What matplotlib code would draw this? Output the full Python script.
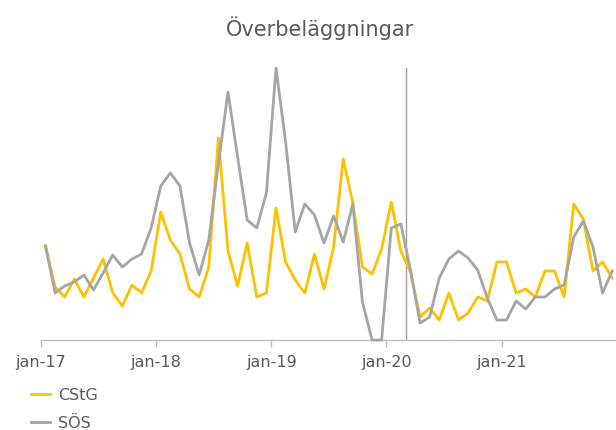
import matplotlib
matplotlib.use("Agg")
import matplotlib.pyplot as plt
import numpy as np

months = list(range(60))  # jan-17 .. dec-21, monthly
tick_labels = ["jan-17", "jan-18", "jan-19", "jan-20", "jan-21"]
cstg = [94, 53, 43, 61, 43, 62, 81, 47, 34, 55, 47, 69,
        128, 100, 86, 51, 43, 73, 202, 89, 54, 97, 43, 47,
        132, 78, 60, 47, 86, 51, 93, 181, 137, 73, 66, 91,
        138, 89, 68, 23, 32, 20, 47, 20, 27, 43, 39, 78,
        78, 47, 51, 43, 69, 69, 43, 136, 121, 69, 78, 62]
sos = [94, 47, 54, 58, 65, 50, 67, 85, 73, 81, 86, 112,
       154, 167, 154, 97, 65, 100, 176, 248, 183, 120, 112, 147,
       272, 198, 108, 136, 125, 97, 124, 98, 136, 38, 0, 0,
       112, 116, 70, 17, 23, 62, 81, 89, 82, 70, 42, 20,
       20, 39, 31, 43, 43, 51, 55, 103, 119, 93, 47, 69]
marker_month = 38  # mar-20

x = np.array(months) + 0.5

fig = plt.figure(figsize=(6.16, 4.30), dpi=100)
ax = fig.add_axes([40.7/616, 90/430, 1 - 40.7/616, 272/430])

ax.plot(x, cstg, color="#FFC000", lw=2.0, label="CStG", clip_on=False, zorder=3)
ax.plot(x, sos, color="#A5A5A5", lw=2.0, label="SÖS", clip_on=False, zorder=3)
ax.axvline(marker_month, color="#A0A0A0", lw=1.0, zorder=2)

ax.set_xlim(0, 59.9)
ax.set_ylim(0, 272)
ax.set_xticks([0, 12, 24, 36, 48])
ax.set_xticklabels(tick_labels)
ax.set_yticks([])
for s in ["top", "right", "left"]:
    ax.spines[s].set_visible(False)
ax.spines["bottom"].set_color("#BFBFBF")
ax.spines["bottom"].set_linewidth(1.0)
ax.tick_params(axis="x", colors="#BFBFBF", length=5, width=1, labelcolor="#595959",
               labelsize=11.5, pad=6)

fig.text(320/616, 1 - 28/430, "Överbeläggningar", ha="center", va="center",
         fontsize=15, color="#595959")

fig.legend(loc="upper left", bbox_to_anchor=(31/616, 1 - 388/430), frameon=False,
           fontsize=11.5, labelcolor="#595959", handlelength=1.2, handletextpad=0.5,
           labelspacing=0.8, borderpad=0, borderaxespad=0)

fig.savefig("out.png", dpi=100)
